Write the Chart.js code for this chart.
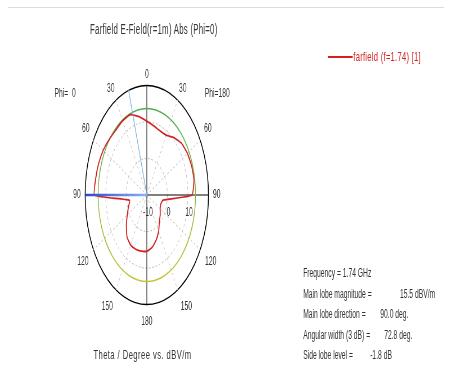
<!DOCTYPE html>
<html>
<head>
<meta charset="utf-8">
<script src="https://cdn.jsdelivr.net/npm/chart.js@4.4.1/dist/chart.umd.min.js"></script>
<style>
  html, body { margin: 0; padding: 0; background: #fff; overflow: hidden; }
  /* laid out 800 wide, then squeezed to 450 like the source screenshot */
  #page {
    position: absolute; left: 0; top: 0; width: 800px; height: 379px;
    transform: scaleX(0.5625); transform-origin: 0 0;
    font-family: "Liberation Sans", Arial, sans-serif; font-size: 12px; color: #333;
  }
  .txt { position: absolute; white-space: pre; line-height: 14px; }
  #topline { position: absolute; left: 14px; top: 7px; width: 776px; border-top: 1px solid #dcdcdc; }
  #polar { position: absolute; left: 0; top: 65px; }
  #legline { position: absolute; left: 583px; top: 56px; width: 44px; height: 2px; background: #d42020; }
  .val { position: absolute; }
</style>
</head>
<body>
<div id="page">
  <div id="topline"></div>
  <div class="txt" style="left:160px; top:22px; font-size:14px; letter-spacing:0.4px;">Farfield E-Field(r=1m) Abs (Phi=0)</div>
  <div class="txt" style="left:97px; top:86px;">Phi=  0</div>
  <div class="txt" style="left:364px; top:86px;">Phi=180</div>
  <div id="legline"></div>
  <div class="txt" style="left:628px; top:50px; color:#d42020; font-size:13.5px; letter-spacing:0.5px;">farfield (f=1.74) [1]</div>
  <canvas id="polar" width="522" height="267"></canvas>
  <div class="txt" style="left:539px; top:266px;">Frequency = 1.74 GHz</div>
  <div class="txt" style="left:539px; top:287px;">Main lobe magnitude =<span class="val" style="left:172px;">15.5 dBV/m</span></div>
  <div class="txt" style="left:539px; top:307px;">Main lobe direction =<span class="val" style="left:137px;">90.0 deg.</span></div>
  <div class="txt" style="left:539px; top:328px;">Angular width (3 dB) =<span class="val" style="left:144px;">72.8 deg.</span></div>
  <div class="txt" style="left:539px; top:348px;">Side lobe level =<span class="val" style="left:119px;">-1.8 dB</span></div>
  <div class="txt" style="left:166px; top:348px; font-size:13.5px; letter-spacing:0.8px;">Theta / Degree vs. dBV/m</div>
</div>
<script>
// theta steps (deg) for both half planes
const thetas = [0, 10, 20, 30, 40, 50, 60, 70, 80, 90, 100, 110, 120, 130, 140, 150, 160, 170, 180]
// dBV/m, right half (Phi=180)
const phi180 = [10.2, 9.2, 8.7, 8.9, 10.5, 12.0, 12.8, 13.2, 13.3, 12.0, -2.0, -2.8, -2.5, -1.5, -0.5, 1.5, 3.2, 4.6, 5.4]
// dBV/m, left half (Phi=0)
const phi0 = [10.2, 11.8, 13.4, 13.5, 13.3, 13.8, 14.5, 15.0, 15.3, 15.5, -1.5, -0.5, 1.0, 3.0, 5.0, 5.8, 5.8, 5.6, 5.4]
const rTicks = [-10, 0, 10]
const sideLobeRing = 13.7
const mainLobeTheta = 90
const beamEdgeTheta = 17.2

// polar angle clockwise from top: right half is theta, left half is 360 - theta
const labels = []
const values = []
thetas.forEach((t, i) => { labels.push(String(t)); values.push(phi180[i]) })
for (let i = thetas.length - 2; i >= 1; i--) {
  labels.push(String(thetas[i]))
  values.push(phi0[i])
}
const step = 360 / labels.length

// label gap per 30 deg step, top to bottom
const labelPad = [4, 5, 8, 8, 10, 11, 10]

const overlay = {
  id: 'overlay',
  beforeDatasetsDraw(chart) {
    const s = chart.scales.r
    const ctx = chart.ctx
    const rr = s.getDistanceFromCenterForValue(sideLobeRing)
    const g = ctx.createLinearGradient(0, s.yCenter - rr, 0, s.yCenter + rr)
    g.addColorStop(0, '#4fae4f')
    g.addColorStop(1, '#c6c23c')
    ctx.save()
    ctx.strokeStyle = g
    ctx.lineWidth = 1.5
    ctx.beginPath()
    ctx.arc(s.xCenter, s.yCenter, rr, 0, Math.PI * 2)
    ctx.stroke()
    ctx.restore()
  },
  afterDatasetsDraw(chart) {
    const s = chart.scales.r
    const ctx = chart.ctx
    ctx.save()
    // 3 dB edge
    let p = s.getPointPosition((360 - beamEdgeTheta) / step, s.drawingArea)
    ctx.strokeStyle = '#79b4e4'
    ctx.lineWidth = 1.2
    ctx.beginPath()
    ctx.moveTo(s.xCenter, s.yCenter)
    ctx.lineTo(p.x, p.y)
    ctx.stroke()
    // main lobe direction
    p = s.getPointPosition((360 - mainLobeTheta) / step, s.drawingArea)
    const g = ctx.createLinearGradient(s.xCenter, 0, p.x, 0)
    g.addColorStop(0, '#8fb0f0')
    g.addColorStop(1, '#2c48c8')
    ctx.strokeStyle = g
    ctx.lineWidth = 2.5
    ctx.beginPath()
    ctx.moveTo(s.xCenter, s.yCenter)
    ctx.lineTo(p.x, p.y)
    ctx.stroke()
    // radial tick labels along the 90 deg spoke
    ctx.fillStyle = '#333'
    ctx.font = '12px "Liberation Sans", Arial, sans-serif'
    ctx.textAlign = 'center'
    ctx.textBaseline = 'top'
    rTicks.forEach(v => {
      const q = s.getPointPosition(90 / step, s.getDistanceFromCenterForValue(v))
      ctx.fillText(String(v), q.x + 2, q.y + 12)
    })
    ctx.restore()
  }
}

new Chart(document.getElementById('polar'), {
  type: 'radar',
  data: {
    labels,
    datasets: [{
      data: values,
      borderColor: '#d42020',
      borderWidth: 1.8,
      pointRadius: 0,
      fill: false,
      tension: 0.15
    }]
  },
  options: {
    responsive: false,
    animation: false,
    events: [],
    layout: { padding: 0 },
    plugins: { legend: { display: false }, tooltip: { enabled: false } },
    scales: {
      r: {
        min: -10,
        max: 20,
        ticks: { stepSize: 10, display: false },
        grid: {
          circular: true,
          color: c => c.tick.value === 20 ? '#000' : '#b8b8b8',
          lineWidth: c => c.tick.value === 20 ? 1.5 : 1
        },
        border: { dash: c => c.tick && c.tick.value === 20 ? [] : [3, 3] },
        angleLines: {
          color: c => c.index % 9 === 0 ? '#000' : (c.index % 3 === 0 ? '#c0c0c0' : 'rgba(0,0,0,0)'),
          lineWidth: c => c.index % 3 === 0 ? 1 : 0,
          borderDash: c => c.index % 9 === 0 ? [] : [3, 3]
        },
        pointLabels: {
          callback: (label, i) => i % 3 === 0 ? label : '',
          color: '#333',
          padding: c => {
            const k = Math.round(c.index / 3)
            return labelPad[k <= 6 ? k : 12 - k]
          },
          font: { size: 12, family: '"Liberation Sans", Arial, sans-serif' }
        }
      }
    }
  },
  plugins: [overlay]
})
</script>
</body>
</html>
